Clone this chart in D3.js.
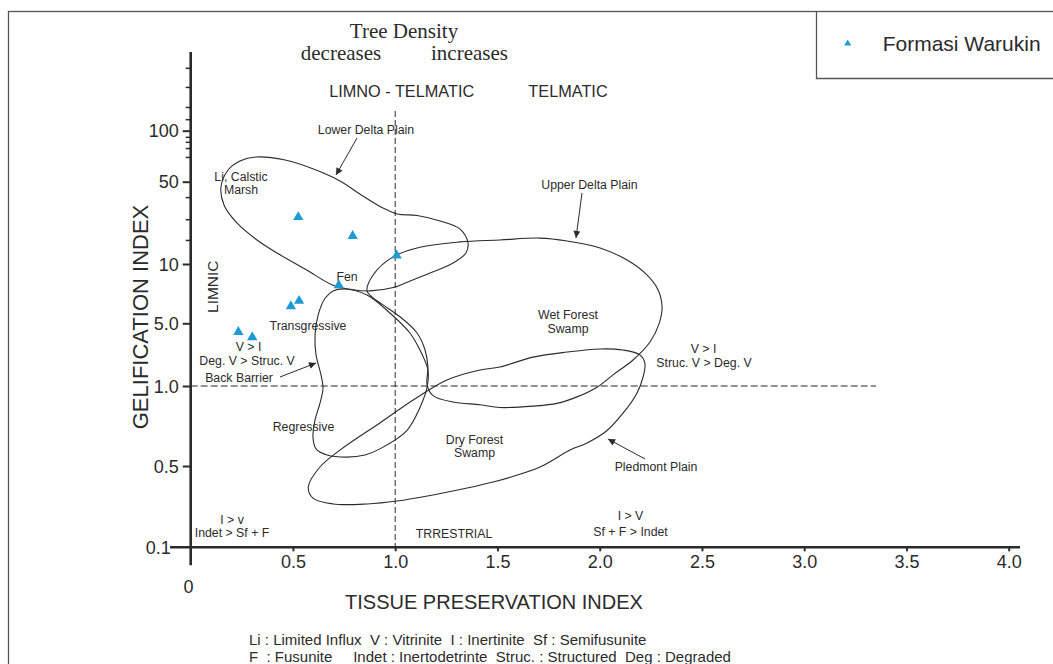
<!DOCTYPE html>
<html><head><meta charset="utf-8">
<script src="https://cdn.jsdelivr.net/npm/d3@7"></script>
<style>body{margin:0;background:#fff;overflow:hidden}</style>
</head><body>
<svg id="c" width="1053" height="664"></svg>
<script>
// ---------- DATA ----------
const xTickValues = [0.5, 1.0, 1.5, 2.0, 2.5, 3.0, 3.5, 4.0];
const xTickLabels = ["0.5", "1.0", "1.5", "2.0", "2.5", "3.0", "3.5", "4.0"];
const yTickValues = [0.1, 0.5, 1, 5, 10, 50, 100];
const yTickLabels = ["0.1", "0.5", "1.0", "5.0", "10", "50", "100"];
const yMinorTicks = [16, 24, 37, 70, 79, 86, 92, 140, 200, 360, 630];
const seriesName = "Formasi Warukin";
// Tissue Preservation Index (x) and Gelification Index (y) of samples
const tpi = [0.526, 0.792, 1.007, 0.724, 0.530, 0.490, 0.233, 0.301];
const gi  = [25, 17.3, 11.8, 7.8, 6.5, 6.1, 4.0, 3.5];
// facies envelopes [TPI, GI]
const lowerDeltaPlain = [[0.148,45.1],[0.183,58.6],[0.241,66.2],[0.319,69.9],[0.462,67.1],[0.613,58.6],[0.730,50.5],[0.842,37.8],[0.940,29.9],[1.009,26.6],[1.107,25.8],[1.219,23.2],[1.317,19.8],[1.356,15.1],[1.346,12.4],[1.283,10.2],[1.170,9.0],[1.073,8.2],[0.990,7.6],[0.877,7.3],[0.793,7.4],[0.696,7.8],[0.569,9.3],[0.422,12.4],[0.324,16.0],[0.226,22.3],[0.163,31.7]];
const upperDeltaPlain = [[0.862,7.3],[0.892,8.8],[0.989,11.5],[1.121,13.9],[1.317,15.4],[1.512,16.0],[1.708,16.6],[1.840,15.7],[2.002,13.7],[2.134,10.8],[2.231,8.8],[2.285,7.4],[2.305,6.05],[2.291,5.0],[2.246,3.09],[2.163,1.95],[2.065,1.33],[1.987,0.99],[1.889,0.91],[1.791,0.86],[1.674,0.84],[1.512,0.83],[1.415,0.85],[1.283,0.87],[1.185,0.92],[1.156,1.03],[1.160,1.63],[1.146,2.52],[1.107,3.9],[1.023,5.4],[0.940,6.2],[0.886,6.8]];
const backBarrier = [[0.754,7.47],[0.862,6.96],[0.974,5.64],[1.072,3.9],[1.121,2.52],[1.160,1.51],[1.156,0.99],[1.121,0.83],[1.057,0.68],[0.925,0.58],[0.852,0.55],[0.764,0.54],[0.667,0.55],[0.613,0.58],[0.598,0.64],[0.608,0.745],[0.632,0.86],[0.647,0.98],[0.637,1.33],[0.613,2.22],[0.608,3.7],[0.623,5.5],[0.657,6.7],[0.696,7.3]];
const dryForest = [[0.575,0.33],[0.632,0.49],[0.730,0.574],[0.925,0.726],[1.088,0.886],[1.253,1.17],[1.415,1.51],[1.512,1.63],[1.674,2.1],[1.840,2.39],[2.002,2.59],[2.114,2.52],[2.197,2.22],[2.221,1.80],[2.212,1.26],[2.182,0.94],[2.114,0.79],[2.036,0.68],[1.938,0.61],[1.855,0.574],[1.708,0.49],[1.562,0.40],[1.479,0.364],[1.352,0.323],[1.185,0.282],[1.009,0.25],[0.862,0.236],[0.696,0.236],[0.598,0.265]];

// ---------- DRAW ----------
const svg = d3.select("#c");
const FONT = "'Liberation Sans', Arial, Helvetica, sans-serif";
const SERIF = "'Liberation Serif', 'Times New Roman', serif";
const INK = "#2b2b2b";
const BLUE = "#1e9bd7";

const x = d3.scaleLinear().domain([0, 4]).range([190.7, 1008.7]);
const y = d3.scaleLog().domain([0.1, 0.5, 1, 5, 10, 50, 100, 1000])
  .range([547.3, 466, 386, 323.3, 264, 181.7, 130.7, 52]);

// frame + legend box
svg.append("rect").attr("x", 8.5).attr("y", 11.5).attr("width", 1070).attr("height", 680)
  .attr("fill", "none").attr("stroke", "#555").attr("stroke-width", 1.3);
svg.append("path").attr("d", "M816.5,11.5V78.5H1060").attr("fill", "none")
  .attr("stroke", "#555").attr("stroke-width", 1.3);

const defs = svg.append("defs");
defs.append("marker").attr("id", "ah").attr("viewBox", "0 0 10 10")
  .attr("refX", 10).attr("refY", 5).attr("markerWidth", 9).attr("markerHeight", 7)
  .attr("markerUnits", "userSpaceOnUse").attr("orient", "auto")
  .append("path").attr("d", "M0,0L10,5L0,10Z").attr("fill", INK);

// dashed reference lines
svg.append("line").attr("x1", x(1)).attr("x2", x(1)).attr("y1", 111).attr("y2", y(0.1))
  .attr("stroke", INK).attr("stroke-width", 1).attr("stroke-dasharray", "6,3");
svg.append("line").attr("x1", x(0)).attr("x2", 876).attr("y1", y(1)).attr("y2", y(1))
  .attr("stroke", INK).attr("stroke-width", 1).attr("stroke-dasharray", "7,3");

// envelopes
const outline = d3.line().x(d => x(d[0])).y(d => y(d[1])).curve(d3.curveCatmullRomClosed.alpha(0.5));
[lowerDeltaPlain, upperDeltaPlain, backBarrier, dryForest].forEach(pts => {
  svg.append("path").attr("d", outline(pts)).attr("fill", "none")
    .attr("stroke", INK).attr("stroke-width", 1.1);
});

// axes
const yAxis = d3.axisLeft(y).tickValues(yTickValues).tickSize(8).tickPadding(4)
  .tickFormat(d => yTickLabels[yTickValues.indexOf(d)]);
const gy = svg.append("g").attr("transform", `translate(${x(0)},0)`).call(yAxis);
gy.select(".domain").remove();
gy.selectAll("line").attr("stroke", INK).attr("stroke-width", 2);
gy.selectAll("text").attr("font-size", 18).attr("font-family", FONT).attr("fill", INK).attr("dy", "0.34em");
gy.selectAll(".tick").filter(d => d === 0.1).select("line").remove();
gy.selectAll(".tick").filter(d => d === 0.1).select("text").attr("x", -20);

const yMinor = d3.axisLeft(y).tickValues(yMinorTicks).tickSize(5).tickFormat("");
const gym = svg.append("g").attr("transform", `translate(${x(0)},0)`).call(yMinor);
gym.select(".domain").remove();
gym.selectAll("line").attr("stroke", INK).attr("stroke-width", 1.5);

svg.append("line").attr("x1", x(0)).attr("x2", x(0)).attr("y1", y(1000)).attr("y2", y(0.1) + 18)
  .attr("stroke", INK).attr("stroke-width", 2.6);
svg.append("line").attr("x1", 170).attr("x2", 1020).attr("y1", y(0.1)).attr("y2", y(0.1))
  .attr("stroke", INK).attr("stroke-width", 2.6);

const xAxis = d3.axisBottom(x).tickValues(xTickValues).tickSize(4)
  .tickFormat(d => xTickLabels[xTickValues.indexOf(d)]);
const gx = svg.append("g").attr("transform", `translate(0,${y(0.1)})`).call(xAxis);
gx.select(".domain").remove();
gx.selectAll("line").attr("stroke", INK).attr("stroke-width", 2);
gx.selectAll("text").attr("font-size", 18).attr("font-family", FONT).attr("fill", INK)
  .attr("y", 21).attr("dy", null);
svg.append("text").attr("x", 188.5).attr("y", 593).attr("text-anchor", "middle")
  .attr("font-size", 18).attr("font-family", FONT).attr("fill", INK).text("0");

// axis titles
svg.append("text").attr("transform", "translate(140.5,317) rotate(-90)").attr("text-anchor", "middle")
  .attr("dy", "0.36em").attr("font-size", 22).attr("font-family", FONT).attr("fill", INK)
  .text("GELIFICATION  INDEX");
svg.append("text").attr("x", 494).attr("y", 602).attr("text-anchor", "middle")
  .attr("dy", "0.36em").attr("font-size", 20).attr("font-family", FONT).attr("fill", INK)
  .text("TISSUE PRESERVATION INDEX");

// top headings
function txt(t, px, py, size, opts = {}) {
  const e = svg.append("text").attr("x", px).attr("y", py)
    .attr("text-anchor", opts.anchor || "middle")
    .attr("font-size", size).attr("font-family", opts.family || FONT)
    .attr("fill", INK).style("white-space", "pre").text(t);
  if (opts.dy !== undefined) e.attr("dy", opts.dy);
  return e;
}
txt("Tree Density", 404, 37.5, 21, {family: SERIF});
txt("decreases", 341, 59.5, 21, {family: SERIF});
txt("increases", 469.5, 59.5, 21, {family: SERIF});
txt("LIMNO - TELMATIC", 401.7, 97, 16.3);
txt("TELMATIC", 568, 97, 16.3);

// annotations (center positions)
const notes = [
  ["Lower Delta Plain", 366, 130], ["Li, Calstic", 241, 177], ["Marsh", 241, 190],
  ["Upper Delta Plain", 589.5, 184.3], ["Fen", 347, 276.7], ["Transgressive", 308, 326],
  ["Wet Forest", 568, 315], ["Swamp", 568, 329],
  ["V > I", 703.5, 349], ["Struc. V > Deg. V", 704, 362.3],
  ["V > I", 248.5, 346.7], ["Deg. V > Struc. V", 247, 361], ["Back Barrier", 239, 377.7],
  ["Regressive", 303.5, 426.7], ["Dry Forest", 474.5, 439.3], ["Swamp", 474.5, 452.7],
  ["Pledmont Plain", 656, 466.6],
  ["I > v", 232, 519.3], ["Indet > Sf + F", 232, 532.7], ["TRRESTRIAL", 454, 533.3],
  ["I > V", 630.5, 516], ["Sf + F > Indet", 630.5, 531.5]
];
notes.forEach(n => txt(n[0], n[1], n[2], 12.3, {dy: "0.36em"}));
svg.append("text").attr("transform", "translate(212.7,286.7) rotate(-90)").attr("text-anchor", "middle")
  .attr("dy", "0.36em").attr("font-size", 15.5).attr("font-family", FONT).attr("fill", INK).text("LIMNIC");

// arrows
[[357, 138, 336, 175], [582, 193, 576, 238], [280, 377, 316, 363], [645, 459, 608, 439]].forEach(a => {
  svg.append("line").attr("x1", a[0]).attr("y1", a[1]).attr("x2", a[2]).attr("y2", a[3])
    .attr("stroke", INK).attr("stroke-width", 1).attr("marker-end", "url(#ah)");
});

// sample points
const tri = d3.symbol().type(d3.symbolTriangle).size(46);
svg.append("g").selectAll("path").data(tpi.map((v, i) => [v, gi[i]])).join("path")
  .attr("d", tri).attr("transform", d => `translate(${x(d[0])},${y(d[1])})`).attr("fill", BLUE);

// legend
svg.append("path").attr("d", d3.symbol().type(d3.symbolTriangle).size(22)())
  .attr("transform", "translate(847.7,43.5)").attr("fill", BLUE);
txt(seriesName, 882.7, 51, 21, {anchor: "start"});

// footnote
txt("Li : Limited Influx  V : Vitrinite  I : Inertinite  Sf : Semifusunite", 249, 645, 15, {anchor: "start"});
txt("F  : Fusunite     Indet : Inertodetrinte  Struc. : Structured  Deg : Degraded", 249, 662, 15, {anchor: "start"});
</script>
</body></html>
